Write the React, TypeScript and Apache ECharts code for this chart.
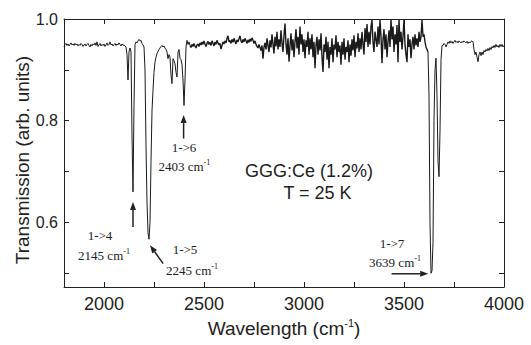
import React, { useEffect, useRef } from "react";
import * as echarts from "echarts";

// ---- spectrum samples (wavenumber step 5 cm-1 within each segment) ----
const STEP = 5;

const baseLeftStart = 1800;
const baseLeft = [
  0.945, 0.950, 0.952, 0.948, 0.951, 0.947, 0.950, 0.953, 0.949, 0.951,
  0.948, 0.952, 0.949, 0.951, 0.947, 0.950, 0.948, 0.952, 0.950, 0.946,
  0.949, 0.951, 0.947, 0.950, 0.952, 0.948, 0.945, 0.950, 0.947, 0.951,
  0.949, 0.953, 0.948, 0.955, 0.946, 0.949, 0.952, 0.947, 0.950, 0.948,
  0.951, 0.946, 0.949, 0.953, 0.948, 0.950, 0.955, 0.949, 0.951, 0.947,
  0.950, 0.952, 0.948, 0.951, 0.949, 0.953, 0.950, 0.947, 0.951, 0.948,
  0.949, 0.947,
];

const bandAStart = 2110;
const bandA = [
  0.945, 0.930, 0.880, 0.935, 0.943, 0.935, 0.770, 0.660, 0.830, 0.950,
  0.955, 0.953, 0.957, 0.960, 0.957, 0.958, 0.952, 0.949, 0.945, 0.900,
  0.750, 0.640, 0.580, 0.567, 0.600, 0.720, 0.820, 0.860, 0.895, 0.915,
  0.925, 0.932, 0.936, 0.940, 0.943, 0.946, 0.948, 0.945, 0.947, 0.943,
  0.940, 0.935, 0.922, 0.930, 0.925, 0.890, 0.873, 0.922, 0.918, 0.912,
  0.895, 0.886, 0.935, 0.940, 0.923, 0.920, 0.910, 0.880, 0.830, 0.880,
  0.945, 0.958, 0.950, 0.955,
];

const noiseStart = 2430;
const noise = [
  0.948, 0.944, 0.950, 0.946, 0.952, 0.947, 0.943, 0.949, 0.951, 0.946,
  0.953, 0.949, 0.955, 0.950, 0.957, 0.951, 0.946, 0.952, 0.956, 0.950,
  0.954, 0.948, 0.957, 0.952, 0.947, 0.955, 0.950, 0.958, 0.953, 0.949,
  0.952, 0.941, 0.948, 0.955, 0.951, 0.957, 0.953, 0.962, 0.967, 0.955,
  0.958, 0.952, 0.960, 0.954, 0.962, 0.956, 0.951, 0.959, 0.955, 0.961,
  0.967, 0.957, 0.953, 0.960, 0.955, 0.962, 0.957, 0.952, 0.959, 0.954,
  0.961, 0.956, 0.963, 0.958, 0.952, 0.957, 0.950, 0.946, 0.943, 0.950,
  0.944, 0.938, 0.948, 0.922, 0.945, 0.953, 0.940, 0.962, 0.948, 0.935,
  0.958, 0.944, 0.970, 0.950, 0.932, 0.965, 0.946, 0.975, 0.940, 0.960,
  0.945, 0.978, 0.952, 0.935, 0.968, 0.991, 0.950, 0.930, 0.962, 0.916,
  0.948, 0.972, 0.938, 0.960, 0.925, 0.955, 0.980, 0.942, 0.965, 0.930,
  0.985, 0.950, 0.970, 0.935, 0.960, 0.923, 0.958, 0.945, 0.975, 0.930,
  0.962, 0.940, 0.970, 0.925, 0.955, 0.903, 0.948, 0.965, 0.930, 0.960,
  0.938, 0.972, 0.925, 0.896, 0.950, 0.935, 0.965, 0.920, 0.955, 0.903,
  0.945, 0.930, 0.962, 0.915, 0.950, 0.940, 0.968, 0.925, 0.955, 0.935,
  0.948, 0.910, 0.955, 0.930, 0.962, 0.920, 0.945, 0.935, 0.958, 0.915,
  0.950, 0.928, 0.960, 0.938, 0.968, 0.925, 0.955, 0.942, 0.972, 0.935,
  0.962, 0.940, 0.975, 0.950, 0.930, 0.982, 0.955, 0.990, 0.945, 0.975,
  0.950, 0.985, 0.998, 0.955, 0.935, 0.975, 0.960, 0.945, 0.985, 0.950,
  0.999, 0.965, 0.913, 0.960, 0.980, 0.940, 0.970, 0.925, 0.955, 0.978,
  0.945, 0.999, 0.960, 0.985, 0.935, 0.970, 0.950, 0.988, 0.915, 0.999,
  0.955, 0.975, 0.940, 0.965, 0.999, 0.950, 0.930, 0.915, 0.970, 0.945,
  0.960, 0.923, 0.950, 0.965, 0.940, 0.970, 0.948, 0.962, 0.945, 0.975,
  0.955, 0.965, 0.998, 0.965, 0.970, 0.955, 0.945, 0.940, 0.935,
];

const bandBStart = 3625;
const bandB = [
  0.850, 0.600, 0.500, 0.505, 0.560, 0.800, 0.900, 0.923, 0.850, 0.720,
  0.690, 0.780, 0.920, 0.948,
];

const baseRightStart = 3695;
const baseRight = [
  0.948, 0.952, 0.950, 0.945, 0.950, 0.955, 0.952, 0.957, 0.953, 0.956,
  0.952, 0.955, 0.958, 0.954, 0.956, 0.953, 0.957, 0.955, 0.953, 0.956,
  0.954, 0.957, 0.955, 0.953, 0.956, 0.952, 0.955, 0.953, 0.956, 0.957,
  0.955, 0.940, 0.930, 0.935, 0.925, 0.916, 0.930, 0.935, 0.928, 0.935,
  0.930, 0.938, 0.935, 0.940, 0.937, 0.942, 0.938, 0.944, 0.940, 0.946,
  0.943, 0.948, 0.944, 0.950, 0.945, 0.948, 0.944, 0.950, 0.946, 0.950,
  0.945, 0.948,
];

// ---- axes ----
const xMin = 1800;
const xMax = 4000;
const xTicks = [2000, 2250, 2500, 2750, 3000, 3250, 3500, 3750, 4000];
const xLabels = [2000, 2500, 3000, 3500, 4000];
const yMin = 0.473;
const yMax = 1.0;
const yTicks = [0.5, 0.6, 0.7, 0.8, 0.9, 1.0];
const yLabels = [0.6, 0.8, 1.0];

// ---- annotations (data coordinates) ----
const arrows = [
  { from: [2145, 0.591], to: [2145, 0.640] },
  { from: [2296, 0.519], to: [2230, 0.555] },
  { from: [2398, 0.765], to: [2398, 0.811] },
  { from: [3438, 0.499], to: [3621, 0.499] },
];
const notes = [
  { text: "1->4", at: [1980, 0.574] },
  { text: "2145 cm{sup|-1}", at: [2000, 0.535] },
  { text: "1->5", at: [2405, 0.547] },
  { text: "2245 cm{sup|-1}", at: [2440, 0.505] },
  { text: "1->6", at: [2400, 0.748] },
  { text: "2403 cm{sup|-1}", at: [2402, 0.709] },
  { text: "1->7", at: [3440, 0.559] },
  { text: "3639 cm{sup|-1}", at: [3455, 0.522] },
];
const sampleLines = [
  { text: "GGG:Ce (1.2%)", at: [2705, 0.7015] },
  { text: "T = 25 K", at: [2897, 0.6577] },
];

const SANS = '"Liberation Sans", Arial, Helvetica, sans-serif';
const SERIF = '"Liberation Serif", "Times New Roman", serif';
const INK = "#222";

function segment(start: number, vals: number[]) {
  return vals.map((v, i) => [start + i * STEP, v]);
}

export default function App() {
  const ref = useRef<HTMLDivElement>(null);
  useEffect(() => {
    document.body.style.margin = "0";
    const chart = echarts.init(ref.current!, null, { renderer: "svg" });
    const left = [...segment(baseLeftStart, baseLeft), ...segment(bandAStart, bandA)];
    const mid = segment(noiseStart, noise);
    const right = [...segment(bandBStart, bandB), ...segment(baseRightStart, baseRight)];
    const lineSeries = (data: number[][], width: number) => ({
      type: "line", xAxisIndex: 0, yAxisIndex: 0, data,
      showSymbol: false, symbol: "none",
      lineStyle: { color: "#1a1a1a", width },
    });
    const axisLine = { show: true, onZero: false, lineStyle: { color: INK, width: 1 } };
    chart.setOption({
      animation: false,
      backgroundColor: "#fff",
      grid: { left: 64, right: 27, top: 19, bottom: 58 },
      xAxis: [
        {
          type: "value", min: xMin, max: xMax, position: "bottom",
          axisLine, splitLine: { show: false },
          axisTick: { show: true, inside: true, length: 5, customValues: xTicks, lineStyle: { color: INK } },
          axisLabel: {
            show: true, customValues: xLabels, margin: 8, color: INK,
            fontSize: 18, fontFamily: SANS,
            formatter: (v: number) => String(Math.round(v)),
          },
        },
        {
          type: "value", min: xMin, max: xMax, position: "top",
          axisLine, splitLine: { show: false },
          axisTick: { show: true, inside: true, length: 5, customValues: xTicks, lineStyle: { color: INK } },
          axisLabel: { show: false },
        },
      ],
      yAxis: [
        {
          type: "value", min: yMin, max: yMax, position: "left",
          axisLine, splitLine: { show: false },
          axisTick: { show: true, inside: true, length: 5, customValues: yTicks, lineStyle: { color: INK } },
          axisLabel: {
            show: true, customValues: yLabels, margin: 6, color: INK,
            fontSize: 16, fontFamily: SANS,
            formatter: (v: number) => v.toFixed(1),
          },
        },
        {
          type: "value", min: yMin, max: yMax, position: "right",
          axisLine, splitLine: { show: false },
          axisTick: { show: true, inside: true, length: 5, customValues: yTicks, lineStyle: { color: INK } },
          axisLabel: { show: false },
        },
      ],
      series: [
        lineSeries([...left, mid[0]], 1),
        lineSeries(mid, 1.4),
        lineSeries([mid[mid.length - 1], ...right], 1),
      ],
    });

    const px = (p: number[]) =>
      chart.convertToPixel({ xAxisIndex: 0, yAxisIndex: 0 }, p) as number[];

    const graphic: any[] = [];
    arrows.forEach((a) => {
      const f = px(a.from);
      const t = px(a.to);
      const dx = t[0] - f[0];
      const dy = t[1] - f[1];
      const len = Math.hypot(dx, dy);
      const ux = dx / len, uy = dy / len;
      const hl = 8, hw = 3;
      const bx = t[0] - ux * hl, by = t[1] - uy * hl;
      graphic.push({
        type: "line",
        shape: { x1: f[0], y1: f[1], x2: bx, y2: by },
        style: { stroke: INK, lineWidth: 1.5 },
      });
      graphic.push({
        type: "polygon",
        shape: {
          points: [
            [t[0], t[1]],
            [bx - uy * hw, by + ux * hw],
            [bx + uy * hw, by - ux * hw],
          ],
        },
        style: { fill: INK },
      });
    });
    notes.forEach((n) => {
      const p = px(n.at);
      graphic.push({
        type: "text", x: p[0], y: p[1],
        style: {
          text: n.text, fill: INK, fontSize: 13, fontFamily: SERIF, lineHeight: 16,
          align: "center", verticalAlign: "middle",
          rich: { sup: { fontSize: 8, fontFamily: SERIF, fill: INK, lineHeight: 6, verticalAlign: "top" } },
        },
      });
    });
    sampleLines.forEach((s) => {
      const p = px(s.at);
      graphic.push({
        type: "text", x: p[0], y: p[1],
        style: {
          text: s.text, fill: INK, fontSize: 18, fontFamily: SANS,
          align: "left", verticalAlign: "middle",
        },
      });
    });
    graphic.push({
      type: "text", x: 284, y: 328,
      style: {
        text: "Wavelength (cm{sup|-1})", fill: INK, fontSize: 19, fontFamily: SANS, lineHeight: 22,
        align: "center", verticalAlign: "middle",
        rich: { sup: { fontSize: 11, fontFamily: SANS, fill: INK, lineHeight: 8, verticalAlign: "top" } },
      },
    });
    graphic.push({
      type: "text", x: 22, y: 160, rotation: Math.PI / 2,
      style: {
        text: "Transmission (arb. units)", fill: INK, fontSize: 19, fontFamily: SANS,
        align: "center", verticalAlign: "middle",
      },
    });
    chart.setOption({ graphic });
    return () => chart.dispose();
  }, []);
  return <div ref={ref} style={{ width: 531, height: 345 }} />;
}
